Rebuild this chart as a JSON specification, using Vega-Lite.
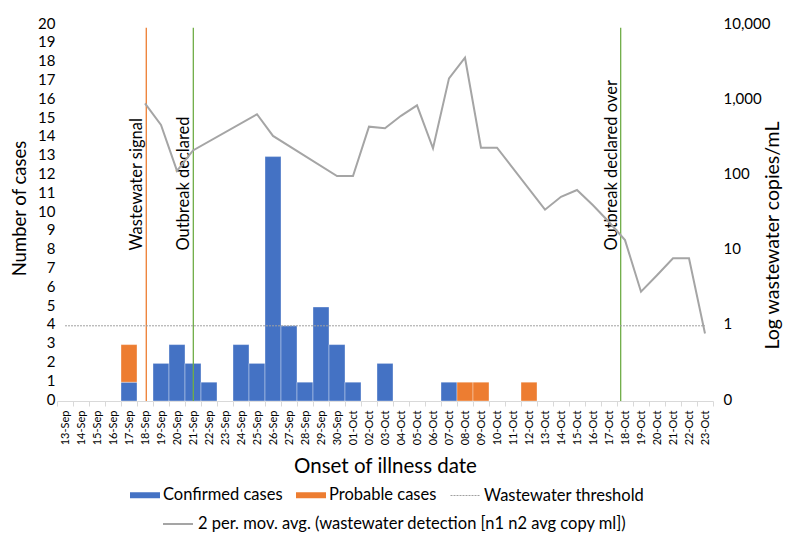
{
  "$schema": "https://vega.github.io/schema/vega-lite/v6.json",
  "autosize": {"type": "none"},
  "padding": {"left": 57, "top": 25, "right": 79, "bottom": 136},
  "width": 656,
  "height": 376,
  "config": {
    "font": "Lato",
    "view": {"stroke": null},
    "axis": {"labelColor": "#000000", "titleColor": "#000000", "titleFontWeight": "normal", "grid": false, "labelOverlap": false},
    "legend": {"labelColor": "#000000", "labelFontSize": 16.5, "labelLimit": 700}
  },
  "datasets": {
    "cases": [
      {"date": "17-Sep", "type": "Confirmed cases", "n": 1},
      {"date": "17-Sep", "type": "Probable cases", "n": 2},
      {"date": "19-Sep", "type": "Confirmed cases", "n": 2},
      {"date": "20-Sep", "type": "Confirmed cases", "n": 3},
      {"date": "21-Sep", "type": "Confirmed cases", "n": 2},
      {"date": "22-Sep", "type": "Confirmed cases", "n": 1},
      {"date": "24-Sep", "type": "Confirmed cases", "n": 3},
      {"date": "25-Sep", "type": "Confirmed cases", "n": 2},
      {"date": "26-Sep", "type": "Confirmed cases", "n": 13},
      {"date": "27-Sep", "type": "Confirmed cases", "n": 4},
      {"date": "28-Sep", "type": "Confirmed cases", "n": 1},
      {"date": "29-Sep", "type": "Confirmed cases", "n": 5},
      {"date": "30-Sep", "type": "Confirmed cases", "n": 3},
      {"date": "01-Oct", "type": "Confirmed cases", "n": 1},
      {"date": "03-Oct", "type": "Confirmed cases", "n": 2},
      {"date": "07-Oct", "type": "Confirmed cases", "n": 1},
      {"date": "08-Oct", "type": "Probable cases", "n": 1},
      {"date": "09-Oct", "type": "Probable cases", "n": 1},
      {"date": "12-Oct", "type": "Probable cases", "n": 1}
    ],
    "events": [
      {"date": "18-Sep", "event": "Wastewater signal"},
      {"date": "21-Sep", "event": "Outbreak declared"},
      {"date": "18-Oct", "event": "Outbreak declared over"}
    ],
    "ww": [
      {"date": "18-Sep", "ww": 910},
      {"date": "19-Sep", "ww": 470},
      {"date": "20-Sep", "ww": 115},
      {"date": "21-Sep", "ww": 215},
      {"date": "25-Sep", "ww": 650},
      {"date": "26-Sep", "ww": 335},
      {"date": "30-Sep", "ww": 98},
      {"date": "01-Oct", "ww": 98},
      {"date": "02-Oct", "ww": 445},
      {"date": "03-Oct", "ww": 423},
      {"date": "04-Oct", "ww": 620},
      {"date": "05-Oct", "ww": 855},
      {"date": "06-Oct", "ww": 229},
      {"date": "07-Oct", "ww": 1950},
      {"date": "08-Oct", "ww": 3670},
      {"date": "09-Oct", "ww": 234},
      {"date": "10-Oct", "ww": 234},
      {"date": "13-Oct", "ww": 35},
      {"date": "14-Oct", "ww": 52},
      {"date": "15-Oct", "ww": 64},
      {"date": "16-Oct", "ww": 40},
      {"date": "17-Oct", "ww": 24},
      {"date": "18-Oct", "ww": 13.8},
      {"date": "19-Oct", "ww": 2.84},
      {"date": "20-Oct", "ww": 4.7},
      {"date": "21-Oct", "ww": 7.9},
      {"date": "22-Oct", "ww": 7.9},
      {"date": "23-Oct", "ww": 0.79}
    ],
    "threshold": [
      {"date": "13-Sep", "thr": 1, "label": "Wastewater threshold"},
      {"date": "23-Oct", "thr": 1, "label": "Wastewater threshold"}
    ]
  },
  "encoding": {
    "x": {
      "field": "date",
      "type": "nominal",
      "sort": null,
      "scale": {
        "domain": ["13-Sep","14-Sep","15-Sep","16-Sep","17-Sep","18-Sep","19-Sep","20-Sep","21-Sep","22-Sep","23-Sep","24-Sep","25-Sep","26-Sep","27-Sep","28-Sep","29-Sep","30-Sep","01-Oct","02-Oct","03-Oct","04-Oct","05-Oct","06-Oct","07-Oct","08-Oct","09-Oct","10-Oct","11-Oct","12-Oct","13-Oct","14-Oct","15-Oct","16-Oct","17-Oct","18-Oct","19-Oct","20-Oct","21-Oct","22-Oct","23-Oct"],
        "paddingInner": 0,
        "paddingOuter": 0
      },
      "axis": {
        "title": "Onset of illness date",
        "titleFontSize": 20.5,
        "titleY": 71,
        "titleBaseline": "alphabetic",
        "labelAngle": 270,
        "labelFontSize": 11,
        "labelPadding": 4,
        "tickSize": 5,
        "tickBand": "extent",
        "tickColor": "#D9D9D9",
        "domainColor": "#D9D9D9"
      }
    }
  },
  "layer": [
    {
      "layer": [
        {
          "data": {"name": "cases"},
          "mark": {"type": "bar", "stroke": "#ffffff", "strokeOpacity": 0.35, "strokeWidth": 1},
          "encoding": {
            "y": {
              "field": "n", "type": "quantitative", "aggregate": "sum", "title": "Number of cases",
              "scale": {"domain": [0, 20], "nice": false},
              "axis": {"orient": "left", "values": [0,1,2,3,4,5,6,7,8,9,10,11,12,13,14,15,16,17,18,19,20], "labelOverlap": false, "domain": false, "ticks": false, "labelPadding": 2, "labelFontSize": 15, "labelOffset": -2, "titleFontSize": 18.5, "titleX": -32, "titleY": 183, "titleBaseline": "alphabetic"}
            },
            "color": {
              "field": "type",
              "type": "nominal",
              "scale": {"domain": ["Confirmed cases", "Probable cases"], "range": ["#4472C4", "#ED7D31"]},
              "legend": {
                "orient": "none",
                "legendX": 73,
                "legendY": 455,
                "direction": "horizontal",
                "title": null,
                "symbolType": "M-1,-0.2H1V0.2H-1Z",
                "symbolSize": 900,
                "symbolStrokeWidth": 0,
                "labelOffset": 3,
                "columnPadding": 13
              }
            },
            "order": {"field": "type"}
          }
        },
        {
          "data": {"name": "events"},
          "transform": [{"filter": "datum.event === 'Wastewater signal'"}],
          "mark": {"type": "rule", "strokeWidth": 1.3, "color": "#ED7D31"},
          "encoding": {
            "x": {"field": "date", "type": "nominal", "bandPosition": 0.58},
            "y": {"datum": 0, "type": "quantitative", "title": "Number of cases",
              "axis": {"orient": "left", "values": [0,1,2,3,4,5,6,7,8,9,10,11,12,13,14,15,16,17,18,19,20], "labelOverlap": false, "domain": false, "ticks": false, "labelPadding": 2, "labelFontSize": 15, "labelOffset": -2, "titleFontSize": 18.5, "titleX": -32, "titleY": 183, "titleBaseline": "alphabetic"}},
            "y2": {"datum": 19.85}
          }
        },
        {
          "data": {"name": "events"},
          "transform": [{"filter": "datum.event === 'Outbreak declared'"}],
          "mark": {"type": "rule", "strokeWidth": 1.3, "color": "#70AD47"},
          "encoding": {
            "x": {"field": "date", "type": "nominal", "bandPosition": 0.52},
            "y": {"datum": 0, "type": "quantitative", "title": "Number of cases",
              "axis": {"orient": "left", "values": [0,1,2,3,4,5,6,7,8,9,10,11,12,13,14,15,16,17,18,19,20], "labelOverlap": false, "domain": false, "ticks": false, "labelPadding": 2, "labelFontSize": 15, "labelOffset": -2, "titleFontSize": 18.5, "titleX": -32, "titleY": 183, "titleBaseline": "alphabetic"}},
            "y2": {"datum": 19.85}
          }
        },
        {
          "data": {"name": "events"},
          "transform": [{"filter": "datum.event === 'Outbreak declared over'"}],
          "mark": {"type": "rule", "strokeWidth": 1.3, "color": "#70AD47"},
          "encoding": {
            "x": {"field": "date", "type": "nominal", "bandPosition": 0.23},
            "y": {"datum": 0, "type": "quantitative", "title": "Number of cases",
              "axis": {"orient": "left", "values": [0,1,2,3,4,5,6,7,8,9,10,11,12,13,14,15,16,17,18,19,20], "labelOverlap": false, "domain": false, "ticks": false, "labelPadding": 2, "labelFontSize": 15, "labelOffset": -2, "titleFontSize": 18.5, "titleX": -32, "titleY": 183, "titleBaseline": "alphabetic"}},
            "y2": {"datum": 19.85}
          }
        },
        {
          "data": {"name": "events"},
          "transform": [{"filter": "datum.event === 'Wastewater signal'"}],
          "mark": {"type": "text", "angle": 270, "align": "left", "baseline": "bottom", "fontSize": 16.5, "color": "#000000", "dy": -1},
          "encoding": {
            "x": {"field": "date", "type": "nominal", "bandPosition": 0.58},
            "y": {"datum": 8, "type": "quantitative", "title": "Number of cases",
              "axis": {"orient": "left", "values": [0,1,2,3,4,5,6,7,8,9,10,11,12,13,14,15,16,17,18,19,20], "labelOverlap": false, "domain": false, "ticks": false, "labelPadding": 2, "labelFontSize": 15, "labelOffset": -2, "titleFontSize": 18.5, "titleX": -32, "titleY": 183, "titleBaseline": "alphabetic"}},
            "text": {"field": "event"}
          }
        },
        {
          "data": {"name": "events"},
          "transform": [{"filter": "datum.event === 'Outbreak declared'"}],
          "mark": {"type": "text", "angle": 270, "align": "left", "baseline": "bottom", "fontSize": 16.5, "color": "#000000", "dy": -1},
          "encoding": {
            "x": {"field": "date", "type": "nominal", "bandPosition": 0.52},
            "y": {"datum": 8, "type": "quantitative", "title": "Number of cases",
              "axis": {"orient": "left", "values": [0,1,2,3,4,5,6,7,8,9,10,11,12,13,14,15,16,17,18,19,20], "labelOverlap": false, "domain": false, "ticks": false, "labelPadding": 2, "labelFontSize": 15, "labelOffset": -2, "titleFontSize": 18.5, "titleX": -32, "titleY": 183, "titleBaseline": "alphabetic"}},
            "text": {"field": "event"}
          }
        },
        {
          "data": {"name": "events"},
          "transform": [{"filter": "datum.event === 'Outbreak declared over'"}],
          "mark": {"type": "text", "angle": 270, "align": "left", "baseline": "bottom", "fontSize": 16.5, "color": "#000000", "dy": -1},
          "encoding": {
            "x": {"field": "date", "type": "nominal", "bandPosition": 0.23},
            "y": {"datum": 8, "type": "quantitative", "title": "Number of cases",
              "axis": {"orient": "left", "values": [0,1,2,3,4,5,6,7,8,9,10,11,12,13,14,15,16,17,18,19,20], "labelOverlap": false, "domain": false, "ticks": false, "labelPadding": 2, "labelFontSize": 15, "labelOffset": -2, "titleFontSize": 18.5, "titleX": -32, "titleY": 183, "titleBaseline": "alphabetic"}},
            "text": {"field": "event"}
          }
        }
      ]
    },
    {
      "layer": [
        {
          "data": {"name": "ww"},
          "mark": {"type": "line", "strokeWidth": 2},
          "encoding": {
            "y": {
              "field": "ww", "type": "quantitative", "title": "Log wastewater copies/mL",
              "scale": {"type": "log", "domain": [0.1, 10000], "nice": false},
              "axis": {"orient": "right", "values": [0.1, 1, 10, 100, 1000, 10000], "labelExpr": "datum.value < 0.5 ? '0' : format(datum.value, ',')", "labelOverlap": false, "domain": false, "ticks": false, "labelPadding": 10, "labelFontSize": 15, "labelOffset": -2, "titleFontSize": 19.5, "titleAngle": 270, "titleX": 65, "titleY": 210, "titleAlign": "center", "titleBaseline": "alphabetic"}
            },
            "stroke": {
              "datum": "2 per. mov. avg. (wastewater detection [n1 n2 avg copy ml])",
              "type": "nominal",
              "scale": {"range": ["#A5A5A5"]},
              "legend": {
                "orient": "none",
                "legendX": 105,
                "legendY": 483,
                "title": null,
                "symbolType": "stroke",
                "symbolSize": 900,
                "symbolStrokeWidth": 2,
                "labelOffset": 4
              }
            },
            "order": {"value": null}
          }
        },
        {
          "data": {"name": "threshold"},
          "mark": {"type": "line", "strokeWidth": 1, "color": "#A0A0A0"},
          "encoding": {
            "y": {
              "field": "thr", "type": "quantitative", "title": "Log wastewater copies/mL",
              "axis": {"orient": "right", "values": [0.1, 1, 10, 100, 1000, 10000], "labelExpr": "datum.value < 0.5 ? '0' : format(datum.value, ',')", "labelOverlap": false, "domain": false, "ticks": false, "labelPadding": 10, "labelFontSize": 15, "labelOffset": -2, "titleFontSize": 19.5, "titleAngle": 270, "titleX": 65, "titleY": 210, "titleAlign": "center", "titleBaseline": "alphabetic"}
            },
            "strokeDash": {
              "field": "label",
              "type": "nominal",
              "scale": {"range": [[2, 1]]},
              "legend": {
                "orient": "none",
                "legendX": 393,
                "legendY": 455,
                "title": null,
                "symbolType": "stroke",
                "symbolSize": 900,
                "symbolStrokeColor": "#A0A0A0",
                "symbolStrokeWidth": 1,
                "labelOffset": 3
              }
            }
          }
        }
      ]
    }
  ],
  "resolve": {"scale": {"y": "independent"}}
}
